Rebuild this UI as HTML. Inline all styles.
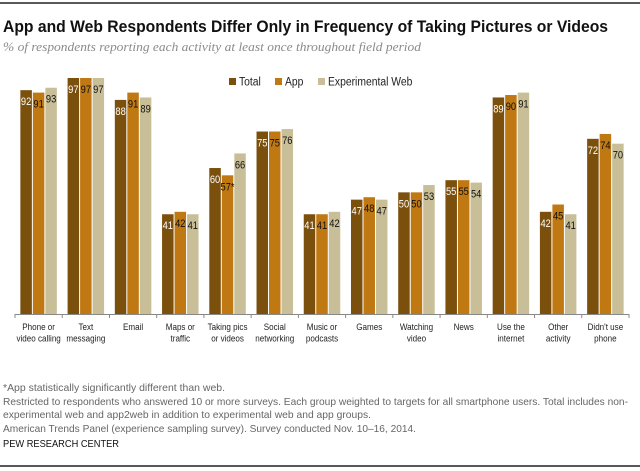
<!DOCTYPE html>
<html><head><meta charset="utf-8">
<style>
body{margin:0;background:#fff;}
svg{display:block;}
text{font-family:"Liberation Sans",sans-serif;}
</style></head>
<body>
<svg id="chart" width="640" height="471" viewBox="0 0 640 471">
<line x1="0" y1="3" x2="640" y2="3" stroke="#222" stroke-width="1.5"/>
<text x="3" y="32" font-size="17" font-weight="bold" fill="#111" textLength="605" lengthAdjust="spacingAndGlyphs">App and Web Respondents  Differ  Only in Frequency  of Taking Pictures or Videos</text>
<text x="3" y="51" font-size="12.5" font-style="italic" fill="#8a8a8a" textLength="418" lengthAdjust="spacingAndGlyphs" style="font-family:'Liberation Serif',serif">% of respondents reporting each activity at least once  throughout field period</text>
<g id="legend"></g>
<g id="bars"></g>
<g id="axis"></g>
<g fill="#666" font-size="10.5">
<text x="3" y="391" textLength="222" lengthAdjust="spacingAndGlyphs">*App statistically significantly different than web.</text>
<text x="3" y="405" textLength="625" lengthAdjust="spacingAndGlyphs">Restricted to respondents who answered 10 or more surveys. Each group weighted to targets for all smartphone users. Total includes non-</text>
<text x="3" y="418" textLength="368" lengthAdjust="spacingAndGlyphs">experimental web and app2web in addition to experimental web and app groups.</text>
<text x="3" y="432" textLength="413" lengthAdjust="spacingAndGlyphs">American Trends Panel (experience sampling survey). Survey conducted Nov. 10–16, 2014.</text>
</g>
<text x="3" y="447" font-size="10.5" fill="#111" textLength="116" lengthAdjust="spacingAndGlyphs">PEW RESEARCH CENTER</text>
<line x1="0" y1="466" x2="640" y2="466" stroke="#222" stroke-width="1.5"/>
</svg>
<script>
const categories=[["Phone or","video calling"],["Text","messaging"],["Email"],["Maps or","traffic"],["Taking pics","or videos"],["Social","networking"],["Music or","podcasts"],["Games"],["Watching","video"],["News"],["Use the","internet"],["Other","activity"],["Didn't use","phone"]];
const seriesNames=["Total","App","Experimental Web"];
const totalValues=[92,97,88,41,60,75,41,47,50,55,89,42,72];
const appValues=[91,97,91,42,57,75,41,48,50,55,90,45,74];
const webValues=[93,97,89,41,66,76,42,47,53,54,91,41,70];
const valueLabels=[totalValues.map(String),appValues.map((v,i)=>i===4?v+"*":String(v)),webValues.map(String)];

const NS="http://www.w3.org/2000/svg";
const colors=["#7b4f0c","#bf7812","#c8bf98"];
const labelColors=["#fff","#111","#111"];
const x0=15,x1=629,baseY=314,pxPerUnit=2.433;
const groupW=(x1-x0)/categories.length;
const barW=11.5,step=12.5;
function yScale(v){return baseY-v*pxPerUnit;}
function xCenter(i){return x0+groupW*(i+0.5);}
function mk(tag,attrs,parent){const e=document.createElementNS(NS,tag);for(const k in attrs)e.setAttribute(k,attrs[k]);parent.appendChild(e);return e;}

const bars=document.getElementById("bars");
const series=[totalValues,appValues,webValues];
series.forEach((vals,s)=>{
  vals.forEach((v,i)=>{
    const cx=xCenter(i)+(s-1)*step;
    const r=mk("rect",{x:cx-barW/2,y:yScale(v),width:barW,height:baseY-yScale(v),fill:colors[s]},bars);
    
    
    const lbl=valueLabels[s][i];
    const t=mk("text",{x:0,y:0,transform:`translate(${cx},${yScale(v)+15}) scale(0.85,1)`,"font-size":"11","text-anchor":"middle",fill:labelColors[s]},bars);
    t.textContent=lbl;
    
    
  });
});

const axis=document.getElementById("axis");
const al=mk("line",{x1:x0,y1:baseY+0.5,x2:x1,y2:baseY+0.5,stroke:"#888"},axis);


for(let i=0;i<=categories.length;i++){
  const tx=x0+groupW*i;
  const tk=mk("line",{x1:tx,y1:baseY,x2:tx,y2:baseY+4,stroke:"#888"},axis);
  
  
}
categories.forEach((lines,i)=>{
  lines.forEach((ln,j)=>{
    const t=mk("text",{x:0,y:0,transform:`translate(${xCenter(i)},${330+j*11.5}) scale(0.85,1)`,"font-size":"9.5","text-anchor":"middle",fill:"#222"},axis);
    t.textContent=ln;
    
    
  });
});

const legend=document.getElementById("legend");
const legX=[229,275,318];
seriesNames.forEach((n,s)=>{
  const r=mk("rect",{x:legX[s],y:78,width:7,height:7,fill:colors[s]},legend);
  
  
  const t=mk("text",{x:0,y:0,transform:`translate(${legX[s]+10},85.5) scale(0.9,1)`,"font-size":"11.5",fill:"#222"},legend);
  t.textContent=n;
  
  
});
</script>
</body></html>
